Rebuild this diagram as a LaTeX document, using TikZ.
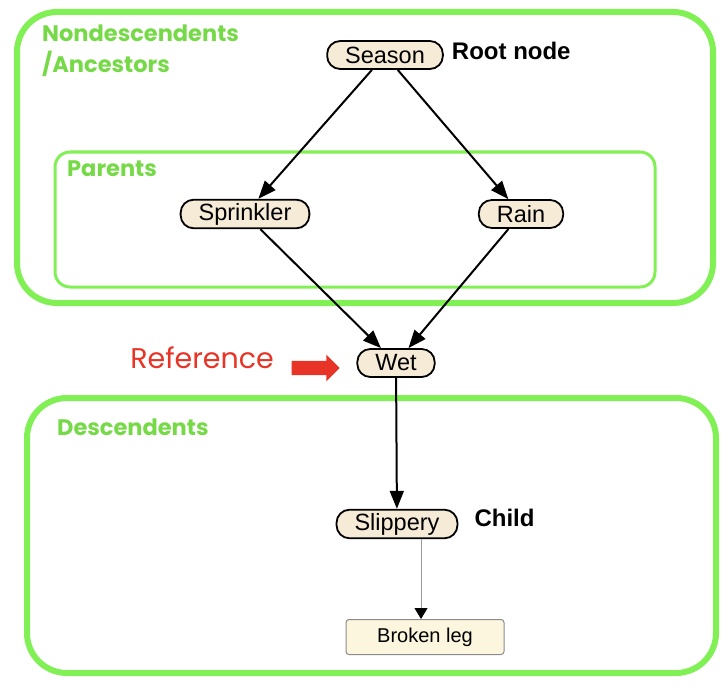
\documentclass[tikz,border=0pt]{standalone}
\usepackage{fontspec}
\setmainfont{Liberation Sans}
\newfontfamily\grpfont{Poppins}
\usetikzlibrary{positioning,shapes.arrows,arrows.meta}
\definecolor{boxgreen}{RGB}{128,240,84}
\definecolor{grpgreen}{RGB}{118,218,72}
\definecolor{nodefill}{RGB}{245,235,214}
\definecolor{legfill}{RGB}{252,246,222}
\definecolor{refred}{RGB}{232,52,38}

\begin{document}
\begin{tikzpicture}[x=1pt, y=-1pt,
    var/.style={rectangle, draw=black, line width=1.8pt, fill=nodefill, rounded corners=13pt,
                inner xsep=18pt, minimum height=28pt, font=\fontsize{23.5}{27}\selectfont},
    leaf/.style={rectangle, draw=black!45, line width=1pt, fill=legfill, rounded corners=3pt,
                 minimum width=158pt, minimum height=35pt, font=\fontsize{20}{24}\selectfont},
    group/.style={draw=boxgreen, line width=6pt, rounded corners=40pt},
    grouplabel/.style={text=grpgreen, font=\grpfont\bfseries\fontsize{22.5}{31}\selectfont,
                       anchor=north west, align=left, inner sep=0pt},
    note/.style={font=\bfseries\fontsize{24}{28}\selectfont, inner sep=0pt},
    edge/.style={-{Triangle[length=18pt,width=14pt]}, line width=2pt}]
\useasboundingbox (0,0) rectangle (728,690);

% groups
\draw[group] (17,12) rectangle (713,303);
\draw[group, line width=3pt, rounded corners=15pt] (55,152) rectangle (655,287);
\draw[group] (27,398) rectangle (716,673);
\node[grouplabel] (nondesc) at (42,25) {Nondescendents\\/Ancestors};
\node[grouplabel] (parents) at (67,161) {Parents};
\node[grouplabel] (desc) at (57,419) {Descendents};

% network
\node[var] (season) at (385,55) {Season};
\node[var] (sprinkler) at (245,214) {Sprinkler};
\node[var] (rain) at (521,214) {Rain};
\node[var] (wet) at (396,363) {Wet};
\node[var] (slip) at (397,524) {Slippery};
\node[leaf] (leg) at (425,637) {Broken leg};

\node[note, right=8pt of season, yshift=4pt] (root) {Root node};
\node[note, right=16pt of slip, yshift=6pt] (child) {Child};

\node[single arrow, fill=refred, inner xsep=0pt, inner ysep=7pt, minimum height=48pt,
      single arrow head extend=6pt, single arrow tip angle=90] (refarrow) at (312,368) {};
\node[text=refred, font=\grpfont\fontsize{28.5}{30}\selectfont, left=14pt of refarrow, yshift=10pt] (ref) {Reference};

\draw[edge] (season) -- (sprinkler);
\draw[edge] (season) -- (rain);
\draw[edge] (sprinkler) -- (wet);
\draw[edge] (rain) -- (wet);
\draw[edge] (wet) -- (slip);
\coordinate (legtop) at ([xshift=-4pt]leg.north);
\draw[black!40, line width=0.8pt, -{Triangle[length=11pt,width=13pt,black]}] (slip.south -| legtop) -- (legtop);
\end{tikzpicture}
\end{document}
